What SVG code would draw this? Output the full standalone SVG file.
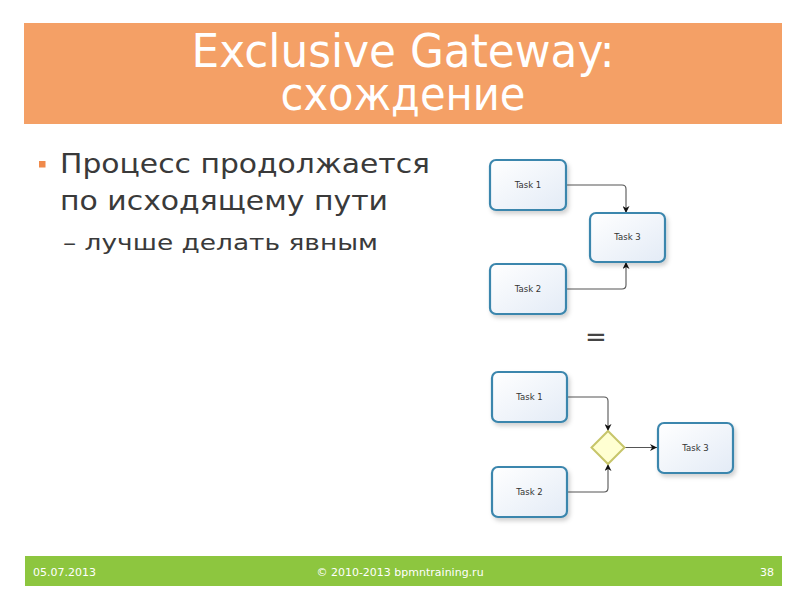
<svg xmlns="http://www.w3.org/2000/svg" width="800" height="600" viewBox="0 0 800 600">
<style>
.title{font-family:"DejaVu Sans Condensed","DejaVu Sans",Verdana,sans-serif;font-size:46px;fill:#ffffff;text-anchor:middle}
.body{font-family:"DejaVu Sans",Verdana,sans-serif;fill:#3a3a3a}
.foot{font-family:"DejaVu Sans",Verdana,sans-serif;font-size:11px;fill:#ffffff}
.task rect{fill:url(#tg);stroke:#3b86ad;stroke-width:2.2;filter:url(#sh)}
.task text{font-family:"DejaVu Sans",Verdana,sans-serif;font-size:8.5px;fill:#333;text-anchor:middle}
.conn path{fill:none;stroke:#555;stroke-width:1.1}
</style>
<defs>
<linearGradient id="tg" x1="0" y1="0" x2="1" y2="1">
<stop offset="0" stop-color="#ffffff"/>
<stop offset="1" stop-color="#e3ebf6"/>
</linearGradient>
<filter id="sh" x="-20%" y="-20%" width="150%" height="160%">
<feDropShadow dx="2" dy="3" stdDeviation="2" flood-color="#000" flood-opacity="0.18"/>
</filter>
<marker id="ar" viewBox="0 0 10 10" refX="10" refY="5" markerWidth="7" markerHeight="7" orient="auto" markerUnits="userSpaceOnUse">
<path d="M0,0 L10,5 L0,10 L3,5 Z" fill="#111"/>
</marker>
</defs>
<rect width="800" height="600" fill="#ffffff"/>
<rect x="24" y="23" width="758" height="101" fill="#f4a066"/>
<text class="title" x="403" y="67" textLength="423" lengthAdjust="spacingAndGlyphs">Exclusive Gateway:</text>
<text class="title" x="403" y="110" textLength="245" lengthAdjust="spacingAndGlyphs">схождение</text>
<rect x="39" y="161" width="6.5" height="6.5" fill="#f08a4b"/>
<text class="body" x="60" y="173" font-size="27" textLength="370" lengthAdjust="spacingAndGlyphs">Процесс продолжается</text>
<text class="body" x="60" y="210" font-size="27" textLength="328" lengthAdjust="spacingAndGlyphs">по исходящему пути</text>
<text class="body" x="63" y="250" font-size="22" textLength="315" lengthAdjust="spacingAndGlyphs">– лучше делать явным</text>
<g class="conn">
<path d="M566,185 H622 Q626,185 626,189 V213" marker-end="url(#ar)"/>
<path d="M566,289 H622 Q626,289 626,285 V262" marker-end="url(#ar)"/>
<path d="M567,397 H604 Q608,397 608,401 V431" marker-end="url(#ar)"/>
<path d="M567,492 H604 Q608,492 608,488 V464" marker-end="url(#ar)"/>
<path d="M624,447.5 H657" marker-end="url(#ar)"/>
</g>
<g id="t1a" class="task"><rect x="490" y="160" width="76" height="50" rx="6"/><text x="528" y="188">Task 1</text></g>
<g id="t3a" class="task"><rect x="590" y="213" width="75" height="49" rx="6"/><text x="627.5" y="240">Task 3</text></g>
<g id="t2a" class="task"><rect x="490" y="264" width="76" height="50" rx="6"/><text x="528" y="292">Task 2</text></g>
<text x="596" y="346" font-family="DejaVu Sans,sans-serif" font-size="26" fill="#444" text-anchor="middle">=</text>
<g id="t1b" class="task"><rect x="492" y="372" width="75" height="50" rx="6"/><text x="529.5" y="400">Task 1</text></g>
<g id="t2b" class="task"><rect x="492" y="467" width="75" height="50" rx="6"/><text x="529.5" y="495">Task 2</text></g>
<g id="gw"><path d="M608,431 L624.5,447.5 L608,464 L591.5,447.5 Z" fill="#ffffd2" stroke="#c7c56a" stroke-width="2"/></g>
<g id="t3b" class="task"><rect x="658" y="423" width="75" height="50" rx="6"/><text x="695.5" y="451">Task 3</text></g>
<rect x="25" y="556" width="757" height="30" fill="#8dc63f"/>
<text class="foot" x="33" y="576">05.07.2013</text>
<text class="foot" x="400" y="576" text-anchor="middle">© 2010-2013 bpmntraining.ru</text>
<text class="foot" x="774" y="576" text-anchor="end">38</text>
</svg>
